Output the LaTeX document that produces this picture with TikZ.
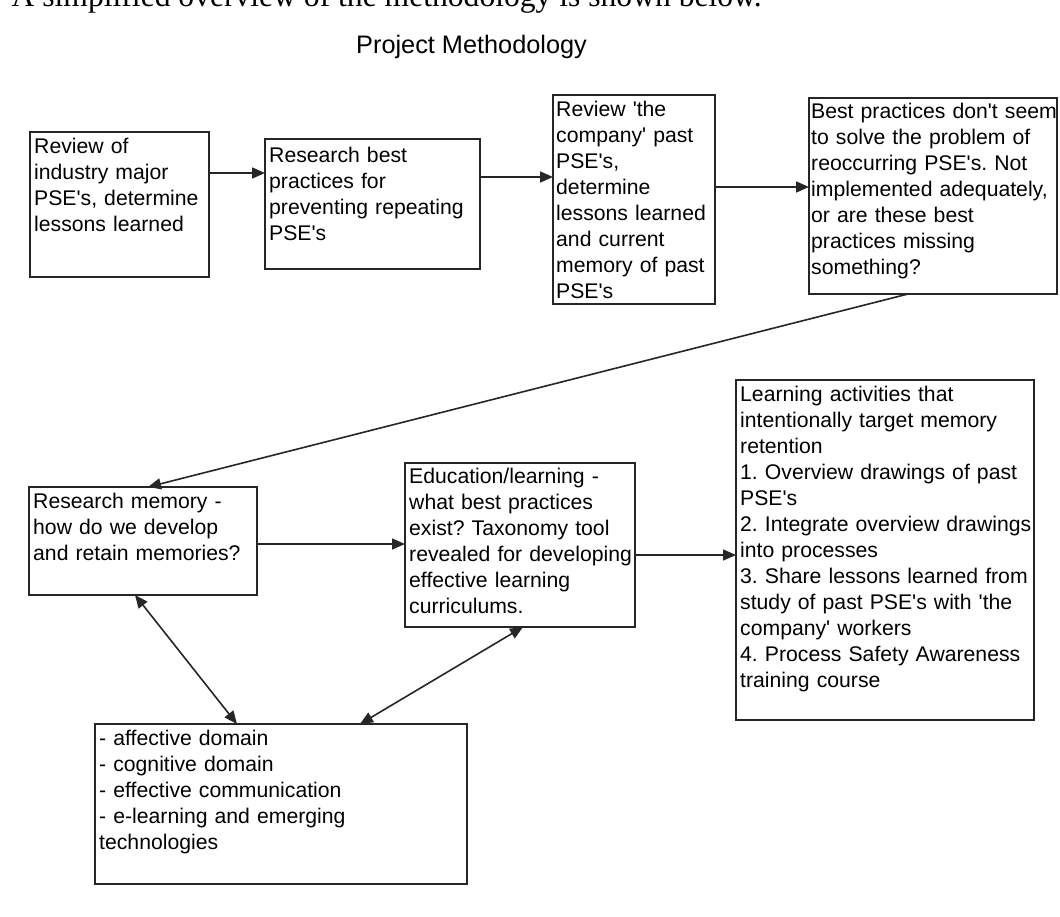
\documentclass[tikz,border=0pt]{standalone}
\usepackage{fontspec}
\setmainfont{Liberation Sans}[Ligatures=TeXOff]
\newfontfamily\pmserif{Liberation Serif}[Ligatures=TeXOff]
\usetikzlibrary{arrows.meta}
\newcommand\pmbody{\fontsize{21.2pt}{26pt}\selectfont}
\frenchspacing
\begin{document}
\begin{tikzpicture}[x=1pt,y=-1pt,
  box/.style={draw=black!85, line width=2pt, rectangle, inner sep=0pt, outer sep=0pt, anchor=north west},
  txt/.style={anchor=base west, inner sep=0pt, text width=330pt, align=left, font=\pmbody, text=black},
  arr/.style={draw=black!85, line width=1.6pt, -{Triangle[length=13pt,width=11pt]}},
  darr/.style={draw=black!85, line width=1.6pt, {Triangle[length=13pt,width=11pt]}-{Triangle[length=13pt,width=11pt]}}]
\useasboundingbox (0,0) rectangle (1060,916);
\clip (0,0) rectangle (1060,916);
\fill[white] (0,0) rectangle (1060,916);

% heading texts
\node[anchor=base west, inner sep=0pt, font=\pmserif\fontsize{31.6pt}{36pt}\selectfont] (intro) at (11.5,6) {A simplified overview of the methodology is shown below.};
\node[anchor=base west, inner sep=0pt, font=\fontsize{25.3pt}{30pt}\selectfont, text=black] (title) at (356,53) {Project Methodology};

% boxes
\node[box, minimum width=179pt, minimum height=145pt] (b1) at (30,132) {};
\node[box, minimum width=215pt, minimum height=130pt] (b2) at (265,139) {};
\node[box, minimum width=162pt, minimum height=209pt] (b3) at (553,95) {};
\node[box, minimum width=248pt, minimum height=196pt] (b4) at (809,98) {};
\node[box, minimum width=228pt, minimum height=108pt] (b5) at (29,487) {};
\node[box, minimum width=230pt, minimum height=164pt] (b6) at (405,463) {};
\node[box, minimum width=298pt, minimum height=340pt] (b7) at (736,380) {};
\node[box, minimum width=372pt, minimum height=160pt] (b8) at (95,724) {};

% texts
\node[txt] (t1) at (34,153) {Review of\\industry major\\PSE's, determine\\lessons learned};
\node[txt] (t2) at (269,162) {Research best\\practices for\\preventing repeating\\PSE's};
\node[txt] (t3) at (556,116) {Review 'the\\company' past\\PSE's,\\determine\\lessons learned\\and current\\memory of past\\PSE's};
\node[txt] (t4) at (811,118) {Best practices don't seem\\to solve the problem of\\reoccurring PSE's. Not\\implemented adequately,\\or are these best\\practices missing\\something?};
\node[txt] (t5) at (33,508) {Research memory -\\how do we develop\\and retain memories?};
\node[txt] (t6) at (409,483) {Education/learning -\\what best practices\\exist? Taxonomy tool\\revealed for developing\\effective learning\\curriculums.};
\node[txt] (t7) at (740,401) {Learning activities that\\intentionally target memory\\retention\\1. Overview drawings of past\\PSE's\\2. Integrate overview drawings\\into processes\\3. Share lessons learned from\\study of past PSE's with 'the\\company' workers\\4. Process Safety Awareness\\training course};
\node[txt] (t8) at (99,745) {- affective domain\\- cognitive domain\\- effective communication\\- e-learning and emerging\\technologies};

% connectors
\draw[arr] (b1.east |- 0,173) -- (b2.west |- 0,173);
\draw[arr] (b2.east |- 0,177) -- (b3.west |- 0,177);
\draw[arr] (b3.east |- 0,187) -- (b4.west |- 0,187);
\draw[arr] (b4.south -| 908,0) -- (b5.north -| 148,0);
\draw[arr] (b5.east |- 0,544) -- (b6.west |- 0,544);
\draw[arr] (b6.east |- 0,555) -- (b7.west |- 0,555);
\draw[darr] (b5.south -| 135,0) -- (b8.north -| 237,0);
\draw[darr] (b6.south -| 523,0) -- (b8.north -| 360,0);
\end{tikzpicture}
\end{document}
